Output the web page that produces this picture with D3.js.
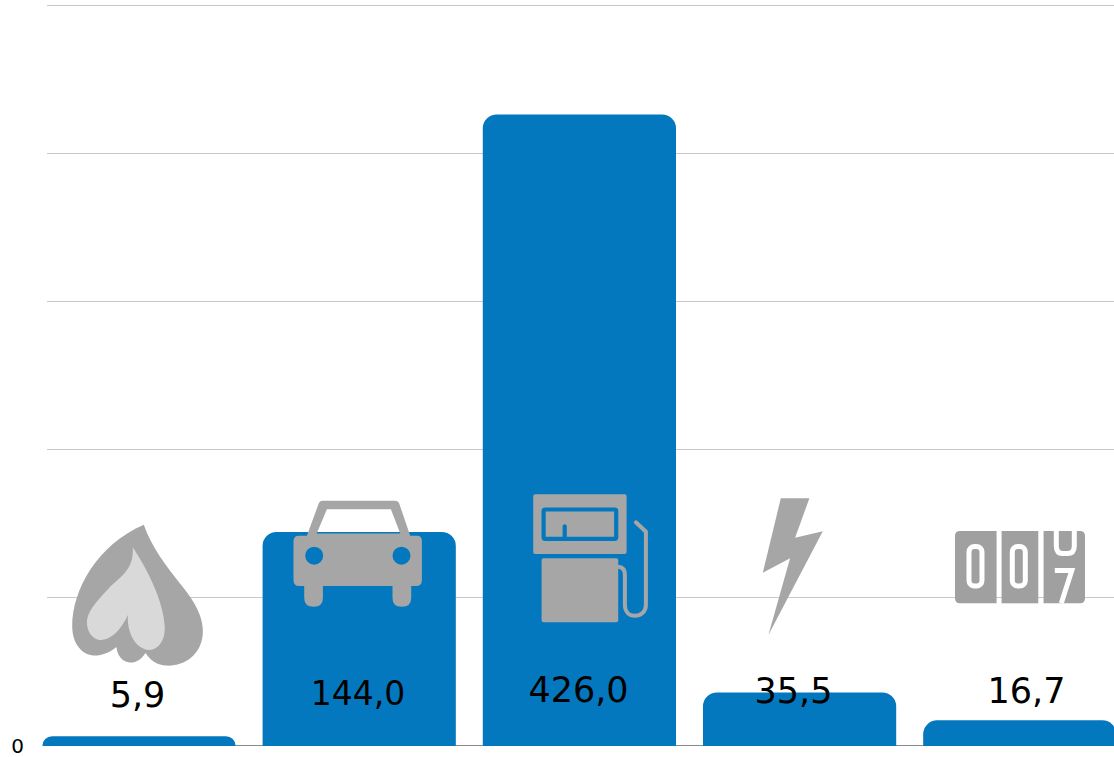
<!DOCTYPE html>
<html>
<head>
<meta charset="utf-8">
<script src="https://cdn.jsdelivr.net/npm/d3@7"></script>
<style>
    html, body { margin: 0; padding: 0; background: #fff; overflow: hidden; }
    svg { display: block; }
    text { font-family: "DejaVu Sans", sans-serif; fill: #000; }
</style>
</head>
<body>
<div id="chart"></div>
<script>
    // Values
    const categories = ["gas", "car", "petrol", "electricity", "meter"];
    const values = [5.9, 144.0, 426.0, 35.5, 16.7];
    const valueLabels = ["5,9", "144,0", "426,0", "35,5", "16,7"];
    const yTicks = [0, 100, 200, 300, 400, 500];

    const width = 1114;
    const height = 757;

    const svg = d3.select("#chart")
        .append("svg")
        .attr("width", width)
        .attr("height", height);

    const x = d3.scaleBand()
        .domain(categories)
        .range([42.4, 1116.4])
        .paddingInner(0.1225);

    const y = d3.scaleLinear()
        .domain([0, 500])
        .range([745, 5]);

    // Gridlines come from the axis, only the 0 keeps its label
    const axis = svg.append("g")
        .attr("transform", "translate(47,0)")
        .call(d3.axisLeft(y)
            .tickValues(yTicks)
            .tickSize(-(width - 47))
            .tickPadding(24)
            .tickFormat(d => d === 0 ? "0" : ""));
    axis.select(".domain").remove();
    axis.selectAll(".tick line").attr("stroke", d => d === 0 ? "#8a8a8a" : "#c8c8c8");
    axis.selectAll(".tick text").attr("font-size", 20).attr("dy", "0.36em").attr("x", -23);

    function barPath(d, i) {
        const x0 = x(categories[i]);
        const x1 = x0 + x.bandwidth();
        const top = y(d);
        const bottom = y(0) + 1;
        const r = Math.min(14, bottom - top);
        return `M${x0},${bottom}V${top + r}A${r},${r} 0 0 1 ${x0 + r},${top}`
            + `H${x1 - r}A${r},${r} 0 0 1 ${x1},${top + r}V${bottom}Z`;
    }

    svg.append("g")
        .selectAll("path")
        .data(values)
        .join("path")
        .attr("d", barPath)
        .attr("fill", "#0478BE");

    // Icons, each drawn around the centre of its band (y is page pixels)
    const iconGrey = "#a6a6a6";
    function icon(category) {
        return svg.append("g")
            .attr("transform", `translate(${x(category) + x.bandwidth() / 2},0)`);
    }

    // Flame
    const flame = icon("gas");
    flame.append("path")
        .attr("fill", iconGrey)
        .attr("d", "M4.8,524.7C12,546 27,566 43,586C56,602 65,618 63.8,634C62,656 44,667 26,665.5"
            + "C18,665 11,660 6.5,653C2,660 -4,663 -9,662.5C-17,662 -22,655 -22.5,647"
            + "C-30,653 -38,656 -46,655.5C-58,654 -66.8,643 -66.8,626C-66.8,590 -42,545 4.8,524.7Z");
    flame.append("path")
        .attr("fill", "#d9d9d9")
        .attr("d", "M-6.2,547.3C6,566 25,600 25.8,628C26,642 18,650 10,650C-3,649 -12,634 -11.2,615"
            + "C-18,630 -28,640 -38.5,640C-46,640 -53,631 -52,620C-50,608 -38,597 -30,588"
            + "C-18,576 -5,570 -6.2,547.3Z");

    // Car, holes for the window and the headlights
    icon("car").append("path")
        .attr("fill", iconGrey)
        .attr("fill-rule", "evenodd")
        .attr("d", "M-37.3,500.7H35.7Q39,500.7 40,503.5L51,535.7H57.7Q62.7,535.7 62.7,541V580"
            + "Q62.7,586 56.7,586H52V598Q52,606.7 42.5,606.7Q33.3,606.7 33.3,598V586H-36.3V598"
            + "Q-36.3,606.7 -45.5,606.7Q-55,606.7 -55,598V586H-60Q-65.7,586 -65.7,580V541"
            + "Q-65.7,535.7 -60,535.7H-52.3L-40.5,503.5Q-39.5,500.7 -37.3,500.7Z"
            + "M-32.3,509.3L-42.5,533.5H41L31.7,509.3Z"
            + "M-54,555.7a9,9 0 1,0 18,0a9,9 0 1,0 -18,0Z"
            + "M33.3,555.7a9,9 0 1,0 18,0a9,9 0 1,0 -18,0Z");

    // Fuel pump
    const pump = icon("petrol");
    pump.append("rect").attr("x", -46.2).attr("y", 494.3).attr("width", 93.4).attr("height", 59.7).attr("rx", 2).attr("fill", iconGrey);
    pump.append("rect").attr("x", -35.8).attr("y", 509.5).attr("width", 72.6).attr("height", 29.3).attr("rx", 1.5)
        .attr("fill", "none").attr("stroke", "#0478BE").attr("stroke-width", 4.2);
    pump.append("path").attr("d", "M-14.7,537V526.4").attr("stroke", "#0478BE").attr("stroke-width", 4.2).attr("stroke-linecap", "round");
    pump.append("rect").attr("x", -37.8).attr("y", 558.3).attr("width", 76.6).attr("height", 64).attr("rx", 2).attr("fill", iconGrey);
    pump.append("path")
        .attr("fill", "none").attr("stroke", iconGrey).attr("stroke-width", 4).attr("stroke-linecap", "round")
        .attr("d", "M38.8,566.7C43,567 45.5,570 45.5,575V605C45.5,612 50,615.7 55.5,615.7C61,615.7 66.5,612 66.5,605V531.7L56.5,522.3");

    // Lightning bolt
    icon("electricity").append("path")
        .attr("fill", iconGrey)
        .attr("d", "M-18.8,498.3H9.8L-4.5,537.7L23.2,531.3L-31.2,635L-9.5,558.3L-36.8,572.7Z");

    // Counter reading 007
    const meter = icon("meter");
    const meterGrey = "#a0a0a0";
    meter.append("path").attr("fill", meterGrey)
        .attr("d", "M-59.8,531H-23.2V603.3H-59.8Q-64.8,603.3 -64.8,598.3V536Q-64.8,531 -59.8,531Z");
    meter.append("rect").attr("x", -18.2).attr("y", 531).attr("width", 36.7).attr("height", 72.3).attr("fill", meterGrey);
    meter.append("path").attr("fill", meterGrey)
        .attr("d", "M23.8,531H60.2Q65.2,531 65.2,536V598.3Q65.2,603.3 60.2,603.3H23.8Z");
    meter.selectAll("rect.digit")
        .data([-50.8, -7.5])
        .join("rect")
        .attr("class", "digit")
        .attr("x", d => d).attr("y", 546.5).attr("width", 13).attr("height", 39.5).attr("rx", 5.5)
        .attr("fill", "none").attr("stroke", "#fff").attr("stroke-width", 5);
    meter.append("path")
        .attr("fill", "none").attr("stroke", "#fff").attr("stroke-width", 5)
        .attr("d", "M36.5,531V546Q36.5,553.5 43,553.5H47.5Q54.5,553.5 54.5,546V531M35,570.5H52L41.5,603.3");

    // Value labels sit on top of the bars and icons
    const labelX = [137.5, 358, 578.5, 793.5, 1026.5];
    const labelBaseline = [707, 705, 702, 703, 703];
    const labelSize = [35, 33, 35, 35, 35];

    svg.append("g")
        .selectAll("text")
        .data(valueLabels)
        .join("text")
        .attr("x", (d, i) => labelX[i])
        .attr("y", (d, i) => labelBaseline[i])
        .attr("text-anchor", "middle")
        .attr("font-size", (d, i) => labelSize[i])
        .text(d => d);
</script>
</body>
</html>
